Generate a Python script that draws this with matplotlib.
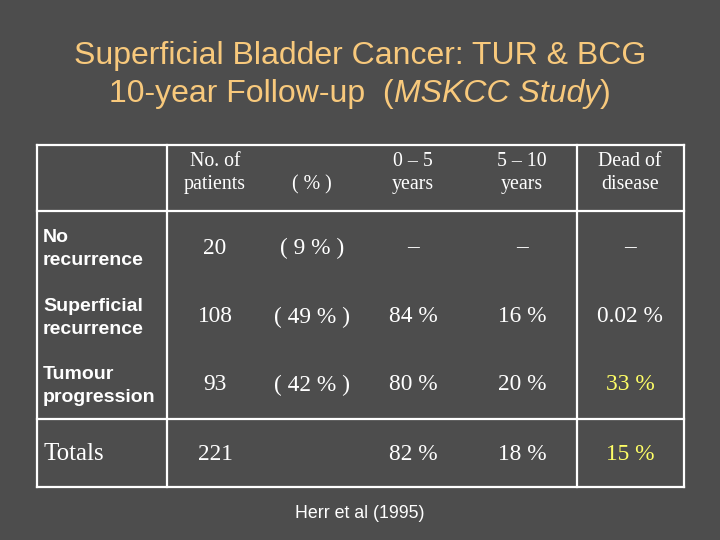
import matplotlib
matplotlib.use("Agg")
import matplotlib.pyplot as plt

# ---- data ----
title_line1 = "Superficial Bladder Cancer: TUR & BCG"
title_line2_plain = "10-year Follow-up  ("
title_line2_italic = "MSKCC Study"
header_labels = ["No. of\npatients", "( % )", "0 – 5\nyears", "5 – 10\nyears", "Dead of\ndisease"]
row_labels = ["No\nrecurrence", "Superficial\nrecurrence", "Tumour\nprogression", "Totals"]
n_patients = ["20", "108", "93", "221"]
pct_patients = ["( 9 % )", "( 49 % )", "( 42 % )", ""]
years_0_5 = ["–", "84 %", "80 %", "82 %"]
years_5_10 = ["–", "16 %", "20 %", "18 %"]
dead_of_disease = ["–", "0.02 %", "33 %", "15 %"]
dead_highlight = [False, False, True, True]
footnote = "Herr et al (1995)"

# ---- style ----
BG = "#4d4d4d"
TITLE_C = "#f8c97c"
YELLOW = "#ffff66"
WHITE = "white"
TFS = 23

fig = plt.figure(figsize=(7.2, 5.4), dpi=100)
fig.patch.set_facecolor(BG)
ax = fig.add_axes([0, 0, 1, 1])
ax.set_facecolor(BG)
ax.set_xlim(0, 720)
ax.set_ylim(540, 0)
ax.axis("off")

# title
ax.text(360, 56, title_line1, ha="center", va="center", fontsize=TFS,
        color=TITLE_C, family="Liberation Sans")
t1 = ax.text(0, 94, title_line2_plain, ha="left", va="center", fontsize=TFS,
             color=TITLE_C, family="Liberation Sans")
t2 = ax.text(0, 94, title_line2_italic, ha="left", va="center", fontsize=TFS,
             color=TITLE_C, family="Liberation Sans", style="italic")
t3 = ax.text(0, 94, ")", ha="left", va="center", fontsize=TFS,
             color=TITLE_C, family="Liberation Sans")
fig.canvas.draw()
r = fig.canvas.get_renderer()
inv = ax.transData.inverted()
def width(t):
    bb = t.get_window_extent(renderer=r)
    (x0, _), (x1, _) = inv.transform([[bb.x0, bb.y0], [bb.x1, bb.y0]])
    return x1 - x0
w1, w2, w3 = width(t1), width(t2), width(t3)
start = 360 - (w1 + w2 + w3) / 2
t1.set_x(start)
t2.set_x(start + w1)
t3.set_x(start + w1 + w2)

# table grid
left, right, top, bottom = 37, 684, 145, 487
vlines = [left, 167, 577, right]
hlines = [top, 211, 419, bottom]
for x in vlines:
    ax.plot([x, x], [top, bottom], color=WHITE, lw=1.6, solid_capstyle="projecting")
for y in hlines:
    ax.plot([left, right], [y, y], color=WHITE, lw=1.6, solid_capstyle="projecting")

col_x = [215, 312, 413, 522, 630]
row_y = [248, 317, 385, 454]
serif = "Liberation Serif"

# header
for i, lab in enumerate(header_labels):
    if "\n" in lab:
        ax.text(col_x[i], 173, lab, ha="center", va="center", fontsize=14.3,
                color=WHITE, family=serif, linespacing=1.35)
    else:
        ax.text(col_x[i], 185, lab, ha="center", va="center", fontsize=14.3,
                color=WHITE, family=serif)

# rows
for j in range(len(row_labels)):
    y = row_y[j]
    if row_labels[j] == "Totals":
        ax.text(43, y, row_labels[j], ha="left", va="center", fontsize=18,
                color=WHITE, family=serif)
    else:
        ax.text(43, y + 1, row_labels[j], ha="left", va="center", fontsize=14,
                color=WHITE, family="Liberation Sans", weight="bold", linespacing=1.5)
    vals = [n_patients[j], pct_patients[j], years_0_5[j], years_5_10[j], dead_of_disease[j]]
    for i, v in enumerate(vals):
        c = YELLOW if (i == 4 and dead_highlight[j]) else WHITE
        ax.text(col_x[i], y, v, ha="center", va="center", fontsize=16.8,
                color=c, family=serif)

ax.text(360, 513, footnote, ha="center", va="center", fontsize=12.8,
        color=WHITE, family="Liberation Sans")

fig.savefig("out.png", dpi=100, facecolor=BG)
